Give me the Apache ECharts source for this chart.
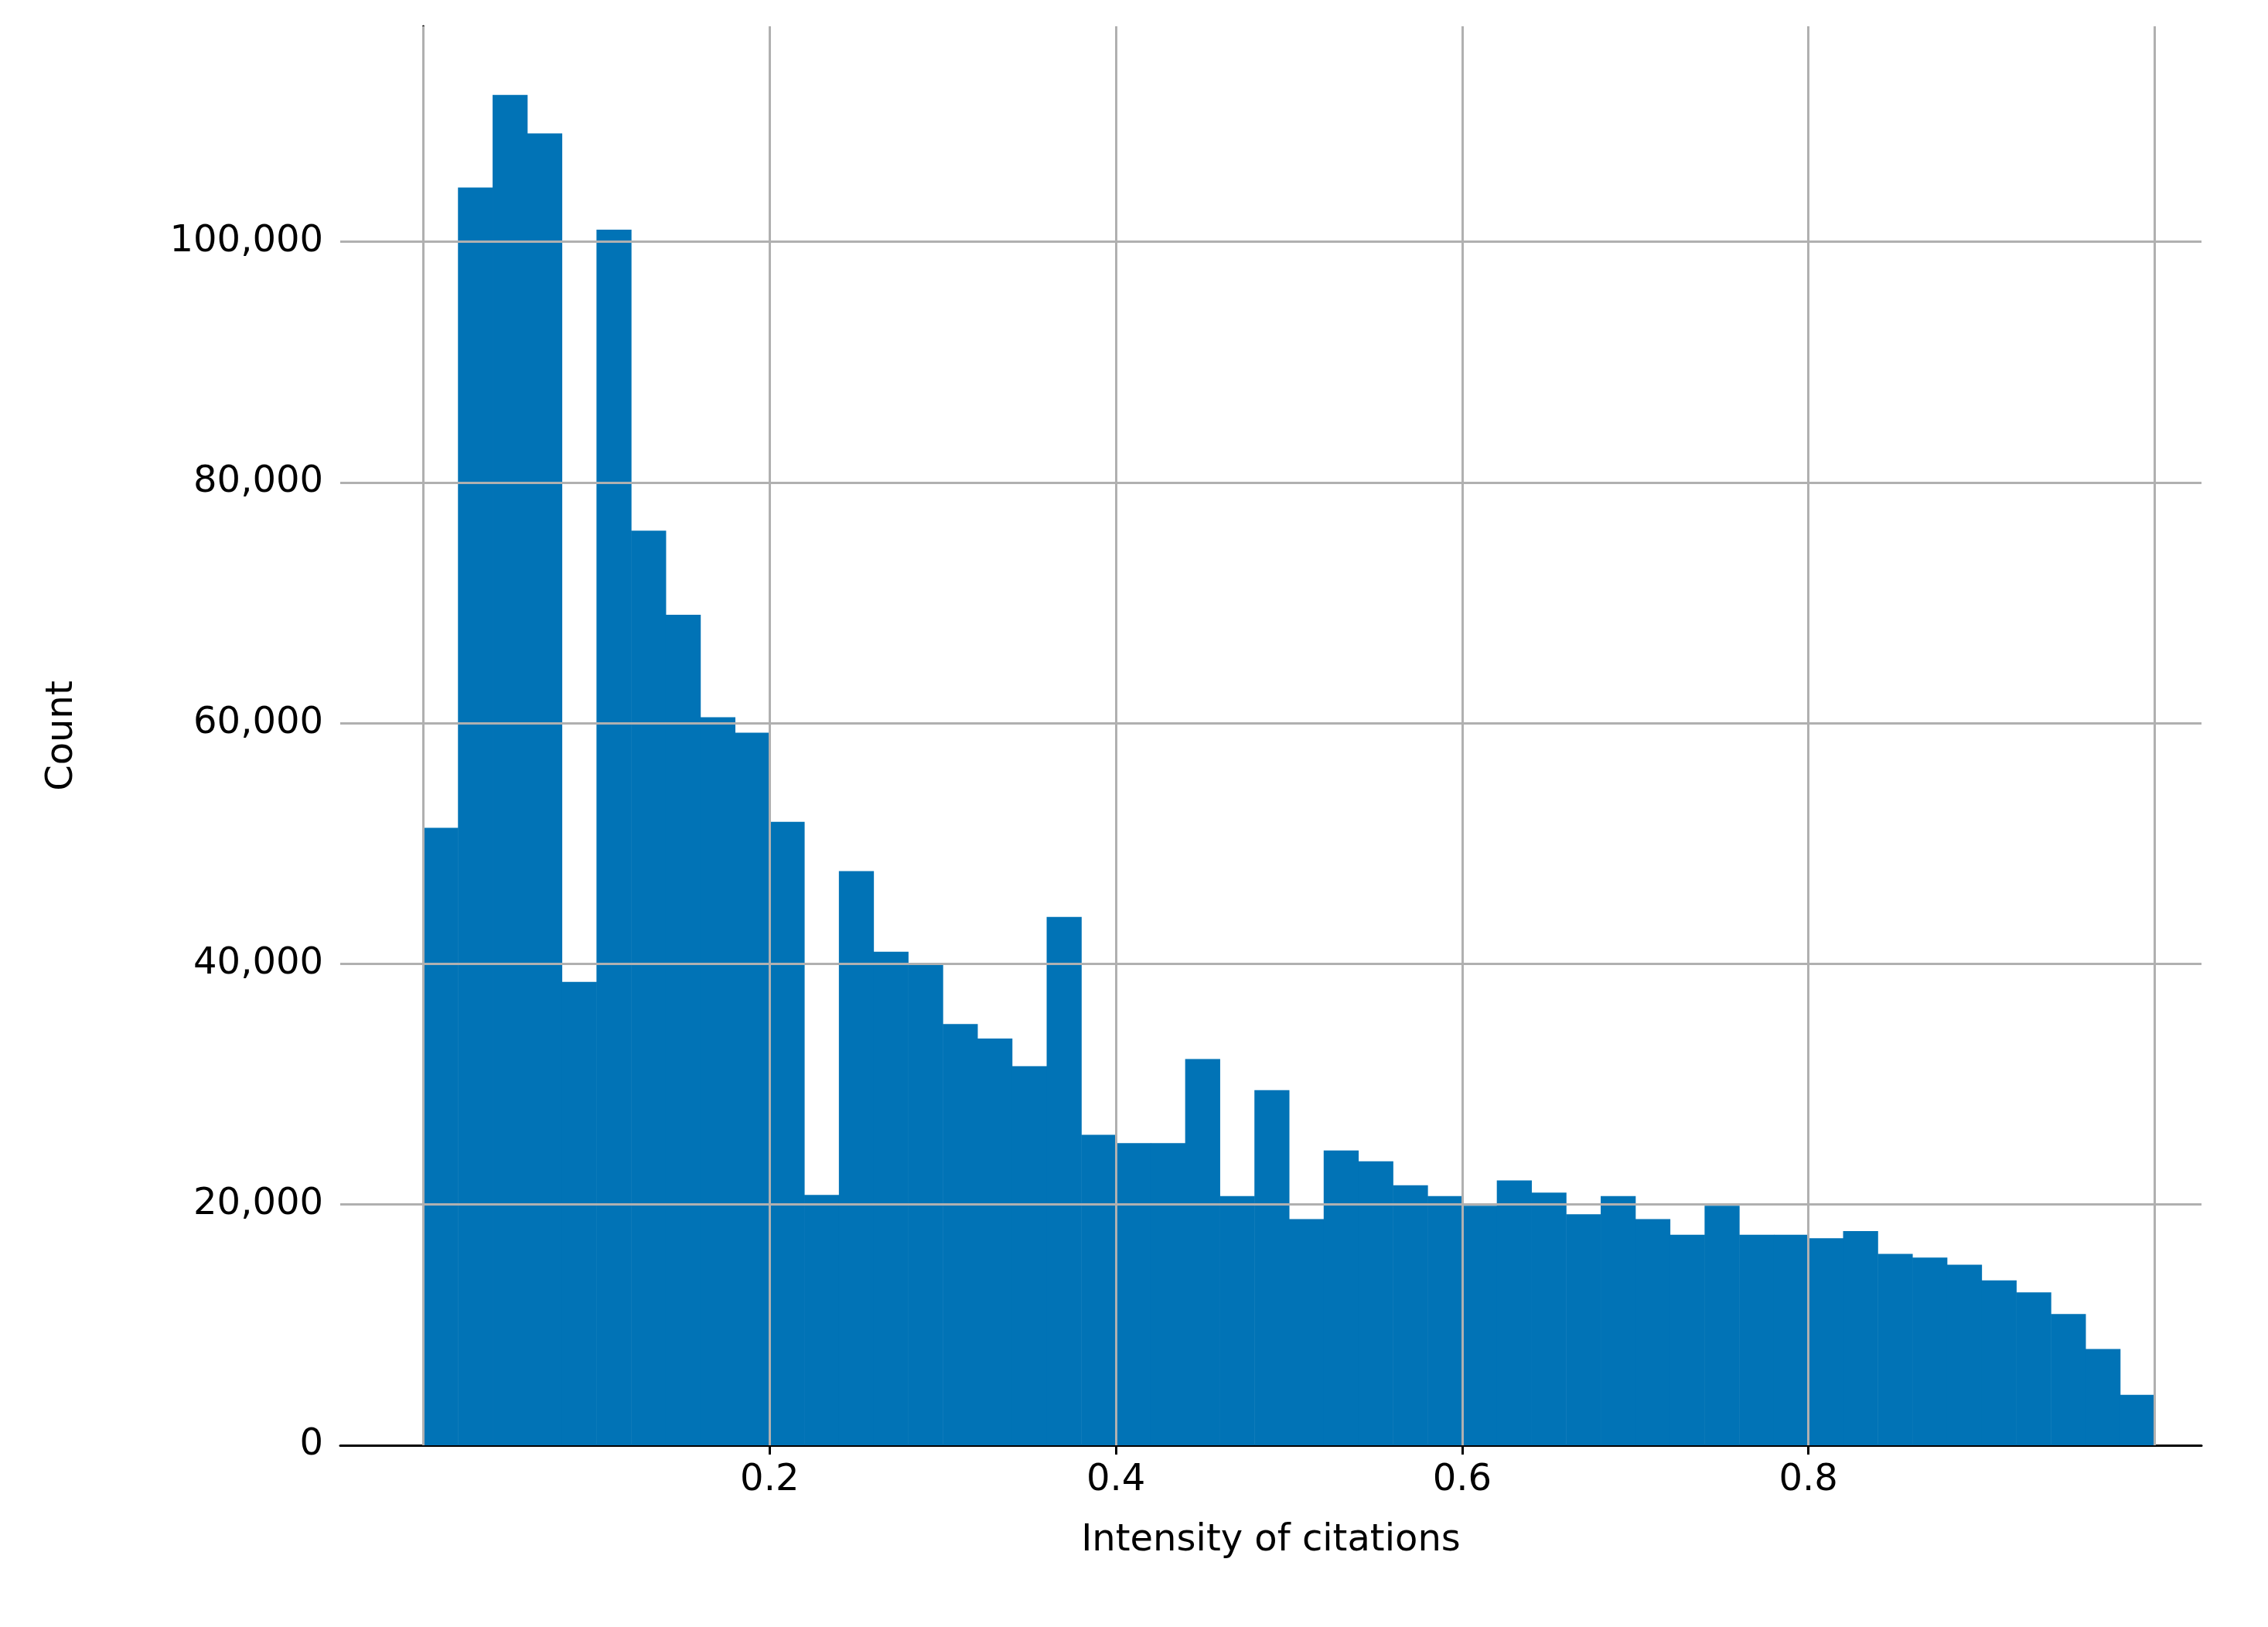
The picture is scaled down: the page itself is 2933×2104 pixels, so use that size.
<!DOCTYPE html>
<html><head><meta charset="utf-8">
<script src="https://cdn.jsdelivr.net/npm/echarts@6/dist/echarts.min.js"></script>
<style>html,body{margin:0;padding:0;background:#fff}#c{width:2933px;height:2104px}</style>
</head><body><div id="c"></div>
<script>
const BIN_START = 0.0;
const BIN_WIDTH = 0.02;
const counts = [51300,104500,112200,109000,38500,101000,76000,69000,60500,59200,
  51800,20800,47700,41000,40000,35000,33800,31500,43900,25800,
  25100,25100,32100,20700,29500,18800,24500,23600,21600,20700,
  19900,22000,21000,19200,20700,18800,17500,19900,17500,17500,
  17200,17800,15900,15600,15000,13700,12700,10900,8000,4200];
const xTicks = [0.0,0.2,0.4,0.6,0.8,1.0];
const yTicks = [0,20000,40000,60000,80000,100000];

const data = counts.map((v,i)=>[BIN_START+i*BIN_WIDTH, BIN_START+(i+1)*BIN_WIDTH, v]);
const font = {fontFamily:'DejaVu Sans', fontSize:48, color:'#000'};
const chart = echarts.init(document.getElementById('c'));
chart.setOption({
  animation:false,
  grid:{left:440,right:86,top:34,bottom:235},
  xAxis:{type:'value',min:-0.048,max:1.027,
    name:'Intensity of citations',nameLocation:'middle',nameGap:100,nameTextStyle:font,
    axisLine:{onZero:false,lineStyle:{color:'#000',width:3}},
    axisTick:{show:true,length:12,lineStyle:{color:'#000',width:3}},
    axisLabel:Object.assign({margin:22,showMinLabel:false,showMaxLabel:false,
      customValues:xTicks,formatter:v=>v.toFixed(1)},font),
    axisTick:{customValues:xTicks,length:12,lineStyle:{color:'#000',width:3}},
    splitLine:{show:false}},
  yAxis:{type:'value',min:0,max:117900,
    name:'Count',nameLocation:'middle',nameGap:335,nameTextStyle:font,
    axisLine:{show:true,lineStyle:{color:'#000',width:3}},
    axisTick:{show:true,customValues:yTicks,length:12,lineStyle:{color:'#000',width:3}},
    axisLabel:Object.assign({margin:22,customValues:yTicks,
      formatter:v=>v.toLocaleString('en-US')},font),
    splitLine:{show:false}},
  series:[
    {type:'custom',renderItem:function(params,api){
      const p0=api.coord([api.value(0),api.value(2)]);
      const p1=api.coord([api.value(1),0]);
      return {type:'rect',shape:{x:p0[0],y:p0[1],width:p1[0]-p0[0]+0.5,height:p1[1]-p0[1]},
        style:{fill:'#0173b6'}};
    },encode:{x:[0,1],y:2},data:data,z:2},
    {type:'line',data:[],z:3,markLine:{silent:true,symbol:'none',label:{show:false},
      lineStyle:{color:'#b0b0b0',width:3,type:'solid'},
      data:xTicks.map(v=>({xAxis:v})).concat(yTicks.slice(1).map(v=>({yAxis:v})))}}
  ]
});
</script></body></html>
